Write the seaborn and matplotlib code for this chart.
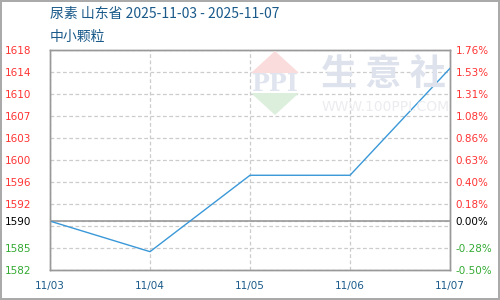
import matplotlib
matplotlib.use("Agg")
import matplotlib.pyplot as plt
from matplotlib.patches import Polygon
import seaborn as sns
import pandas as pd

# ---- data ----
dates = ["11/03", "11/04", "11/05", "11/06", "11/07"]
prices = [1590, 1585, 1597.5, 1597.5, 1615]
base = 1590
y_min, y_max = 1582, 1618
left_ticks = [1618, 1614.4, 1610.8, 1607.2, 1603.6, 1600, 1596.4, 1592.8, 1589.2, 1585.6, 1582]
left_labels = ["1618", "1614", "1610", "1607", "1603", "1600", "1596", "1592", "", "1585", "1582"]
right_labels = ["1.76%", "1.53%", "1.31%", "1.08%", "0.86%", "0.63%", "0.40%", "0.18%", "", "-0.28%", "-0.50%"]
title = "尿素 山东省 2025-11-03 - 2025-11-07"
subtitle = "中小颗粒"

sns.set_style("white")
plt.rcParams['font.family'] = ['DejaVu Sans']
cjk = ['Noto Sans CJK SC', 'DejaVu Sans']

RED = "#ff3333"
GREEN = "#33aa33"
BLUE_TXT = "#1a5a8a"
LINE = "#3a98d8"
GRID = "#cccccc"

fig = plt.figure(figsize=(5, 3), dpi=100)
fig.patch.set_facecolor("white")
fig.patch.set_edgecolor("#aaaaaa")
fig.patch.set_linewidth(1.5)

def fx(px):
    return px / 500.0

def fy(py):
    return 1 - py / 300.0

ax = fig.add_axes([0.1, 0.1, 0.8, 220 / 300])

# watermark
fig.patches.append(Polygon([(fx(275), fy(51)), (fx(251), fy(73)), (fx(299), fy(73))],
                           closed=True, transform=fig.transFigure, facecolor="#fbdcdc",
                           edgecolor="none", zorder=0))
fig.patches.append(Polygon([(fx(251), fy(93)), (fx(299), fy(93)), (fx(275), fy(115))],
                           closed=True, transform=fig.transFigure, facecolor="#dcefdc",
                           edgecolor="none", zorder=0))
fig.text(fx(275), fy(84), "PPI", ha="center", va="center", fontsize=17, color="#dfe4ee",
         family="DejaVu Serif", fontweight="bold", zorder=0)
fig.text(fx(383), fy(74), "生 意 社", ha="center", va="center", fontsize=26, color="#dde2ec",
         family=cjk, fontweight="bold", zorder=0)
fig.text(fx(386), fy(107), "WWW.100PPI.COM", ha="center", va="center", fontsize=10,
         color="#ececf0", zorder=0)
ax.set_facecolor("none")

df = pd.DataFrame({"date": dates, "price": prices})
df["x"] = range(len(dates))
sns.lineplot(data=df, x="x", y="price", ax=ax, color=LINE, linewidth=1, zorder=3)

ax.set_xlim(0, len(dates) - 1)
ax.set_ylim(y_min, y_max)
ax.set_xlabel("")
ax.set_ylabel("")
ax.set_xticks(range(len(dates)))
ax.set_xticklabels(dates)
ax.set_yticks(left_ticks + [base])
ax.set_yticklabels(left_labels + [str(base)])
for t, v in zip(ax.get_yticklabels(), left_ticks + [base]):
    if v == base:
        t.set_color("black")
    elif v > base:
        t.set_color(RED)
    else:
        t.set_color(GREEN)
    t.set_horizontalalignment("left")

ax.tick_params(axis="y", length=0, pad=32.5, labelsize=7.5)
ax.tick_params(axis="x", length=0, pad=8, labelsize=7.5, labelcolor=BLUE_TXT)

ax.grid(True, linestyle=(0, (3, 2)), color=GRID, linewidth=0.9)
ax.axhline(base, color="#999999", linewidth=1.2, zorder=2)
for s in ax.spines.values():
    s.set_color("#999999")
    s.set_linewidth(1)

ax2 = ax.twinx()
ax2.set_ylim(y_min, y_max)
ax2.set_yticks(left_ticks + [base])
ax2.set_yticklabels(right_labels + ["0.00%"])
for t, v in zip(ax2.get_yticklabels(), left_ticks + [base]):
    if v == base:
        t.set_color("black")
    elif v > base:
        t.set_color(RED)
    else:
        t.set_color(GREEN)
ax2.tick_params(axis="y", length=0, pad=4, labelsize=7.5)
for s in ax2.spines.values():
    s.set_color("#999999")
    s.set_linewidth(1)

fig.text(fx(50), fy(14), title, ha="left", va="center", fontsize=10, color=BLUE_TXT, family=cjk)
fig.text(fx(50), fy(37), subtitle, ha="left", va="center", fontsize=10, color=BLUE_TXT, family=cjk)

fig.savefig("out.png", dpi=100)
